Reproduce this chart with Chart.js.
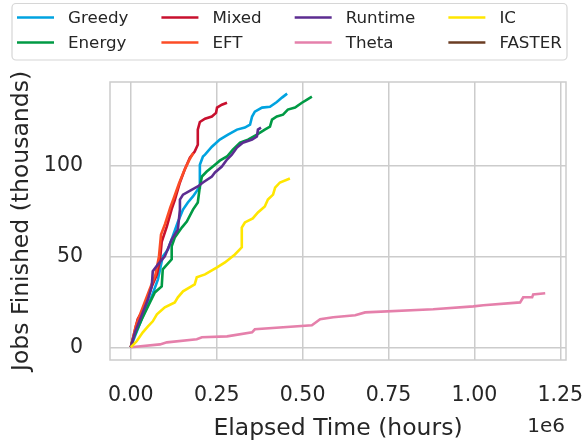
<!DOCTYPE html>
<html>
<head>
<meta charset="utf-8">
<script src="https://cdn.jsdelivr.net/npm/chart.js@4.4.0/dist/chart.umd.min.js"></script>
<style>
  html, body { margin: 0; padding: 0; background: #fff; }
</style>
</head>
<body>
<canvas id="jobsChart" width="584" height="444"></canvas>
<script>
// elapsed time in hours, jobs finished in thousands
const greedyX = [0, 12000, 35000, 61000, 79000, 93000, 108000, 122000, 137000, 152000, 166000, 181000, 195000, 200000, 201000, 210000, 216000, 236000, 259000, 283000, 309000, 332000, 347000, 353000, 361000, 382000, 405000, 425000, 440000, 455000];
const greedyY = [0, 6, 17, 28, 37.4, 50, 53.8, 61, 69, 75.8, 79.7, 83, 86.8, 88, 100.5, 105, 106, 110.4, 114.3, 117, 119.8, 120.9, 122.5, 127, 129.7, 131.9, 132.4, 135, 137.4, 139.6];

const energyX = [0, 6000, 32000, 50000, 70000, 90000, 93000, 119000, 119000, 128000, 149000, 163000, 181000, 195000, 201000, 207000, 221000, 245000, 259000, 280000, 297000, 318000, 341000, 367000, 390000, 405000, 411000, 425000, 443000, 457000, 478000, 498000, 513000, 527000];
const energyY = [0, 4.4, 15.4, 22.5, 30.2, 33.5, 42.9, 48.4, 55.5, 60.4, 66, 69.2, 75.8, 79.7, 88.5, 94, 96.7, 100.5, 102.7, 105, 108.8, 112.6, 114.3, 117, 119.8, 121.4, 125.3, 127, 128, 130.8, 131.9, 134.6, 136.3, 137.9];

const mixedX = [0, 20000, 41000, 61000, 76000, 85000, 90000, 105000, 119000, 128000, 143000, 157000, 172000, 186000, 195000, 195000, 201000, 216000, 236000, 248000, 251000, 265000, 280000];
const mixedY = [0, 15.4, 22.5, 33.5, 40, 48, 58, 66.5, 76, 81, 90.7, 97.8, 104.4, 107.7, 111.5, 119.8, 124, 125.8, 127, 129, 131.9, 133.5, 134.6];

const eftX = [0, 15000, 35000, 55000, 72000, 82000, 88000, 100000, 115000, 125000, 140000, 155000, 170000, 182000];
const eftY = [0, 12, 22, 32, 40, 50, 62, 68, 77, 82, 90, 97, 103, 107];

const runtimeX = [0, 12000, 35000, 50000, 61000, 64000, 79000, 99000, 119000, 137000, 143000, 143000, 152000, 178000, 195000, 210000, 236000, 245000, 265000, 280000, 294000, 309000, 326000, 353000, 367000, 370000, 379000];
const runtimeY = [0, 8.2, 19.2, 26.4, 33.5, 41.8, 45.6, 50, 59.3, 64.8, 75.8, 81.3, 84, 86.8, 88.5, 90.7, 94, 96.2, 99.5, 103.3, 106, 109.9, 112.6, 114.3, 116, 119.8, 120.9];

const thetaX = [0, 85000, 105000, 192000, 207000, 280000, 353000, 361000, 527000, 551000, 589000, 653000, 682000, 880000, 997000, 1026000, 1133000, 1142000, 1168000, 1171000, 1206000];
const thetaY = [0, 1.6, 2.7, 4.4, 5.5, 6, 8.2, 9.9, 12.1, 15.4, 16.5, 17.6, 19.2, 20.9, 22.5, 23.1, 24.7, 27.5, 27.5, 29.1, 29.7];

const icX = [0, 17000, 35000, 50000, 64000, 76000, 99000, 128000, 137000, 152000, 186000, 192000, 216000, 251000, 274000, 303000, 323000, 323000, 332000, 355000, 370000, 390000, 399000, 414000, 420000, 434000, 463000];
const icY = [0, 3.3, 8.2, 11.5, 14.3, 18.1, 22, 24.7, 27.5, 30.8, 34.6, 38.5, 40.1, 44, 46.7, 51.1, 55, 65.9, 68.7, 70.9, 74.2, 77.5, 81.3, 84, 87.9, 90.7, 92.9];

const fasterX = [];
const fasterY = [];

const xTicks = [0, 250000, 500000, 750000, 1000000, 1250000];
const yTicks = [0, 50, 100];

const series = [
  { label: 'Greedy',  xs: greedyX,  ys: greedyY,  color: '#00A3E0' },
  { label: 'Energy',  xs: energyX,  ys: energyY,  color: '#009A44' },
  { label: 'Mixed',   xs: mixedX,   ys: mixedY,   color: '#C8102E' },
  { label: 'EFT',     xs: eftX,     ys: eftY,     color: '#FC4C26' },
  { label: 'Runtime', xs: runtimeX, ys: runtimeY, color: '#5C2D91' },
  { label: 'Theta',   xs: thetaX,   ys: thetaY,   color: '#E580AB' },
  { label: 'IC',      xs: icX,      ys: icY,      color: '#FFE600' },
  { label: 'FASTER',  xs: fasterX,  ys: fasterY,  color: '#6B3D23' }
];

const FONT = "'DejaVu Sans', sans-serif";
const TEXT = '#262626';
const GRID = '#cccccc';

// axes frame on all four sides
const framePlugin = {
  id: 'frame',
  beforeDatasetsDraw(chart) {
    const { ctx, chartArea: a } = chart;
    ctx.save();
    ctx.strokeStyle = GRID;
    ctx.lineWidth = 1.5;
    ctx.strokeRect(a.left, a.top, a.right - a.left, a.bottom - a.top);
    ctx.restore();
  }
};

// 4-column legend box plus the 1e6 multiplier under the x axis
const legendPlugin = {
  id: 'gridLegend',
  afterDraw(chart) {
    const ctx = chart.ctx;
    const cols = 4;
    const rows = [17.5, 42.5];
    ctx.save();
    ctx.font = '16.7px ' + FONT;

    ctx.beginPath();
    ctx.roundRect(12, 3.5, 555, 56.5, 4);
    ctx.fillStyle = 'rgba(255,255,255,0.8)';
    ctx.fill();
    ctx.strokeStyle = '#d6d6d6';
    ctx.lineWidth = 1.2;
    ctx.stroke();

    let x = 17;
    for (let c = 0; c < cols; c++) {
      let widest = 0;
      for (let r = 0; r < rows.length; r++) {
        const s = series[c * rows.length + r];
        const y = rows[r];
        ctx.strokeStyle = s.color;
        ctx.lineWidth = 2.6;
        ctx.beginPath();
        ctx.moveTo(x, y);
        ctx.lineTo(x + 37, y);
        ctx.stroke();
        ctx.fillStyle = TEXT;
        ctx.textBaseline = 'middle';
        ctx.textAlign = 'left';
        ctx.fillText(s.label, x + 51, y + 1);
        widest = Math.max(widest, ctx.measureText(s.label).width);
      }
      x += 51 + widest + 33;
    }

    ctx.font = '20px ' + FONT;
    ctx.textAlign = 'right';
    ctx.textBaseline = 'middle';
    ctx.fillText('1e6', chart.chartArea.right - 1, 427);
    ctx.restore();
  }
};

new Chart(document.getElementById('jobsChart'), {
  type: 'line',
  data: {
    datasets: series.map((s, i) => ({
      label: s.label,
      data: s.xs.map((x, j) => ({ x: x, y: s.ys[j] })),
      borderColor: s.color,
      backgroundColor: s.color,
      borderWidth: 2.6,
      pointRadius: 0,
      tension: 0,
      fill: false,
      order: series.length - i
    }))
  },
  options: {
    responsive: false,
    animation: false,
    devicePixelRatio: 1,
    layout: { padding: { top: 82, right: 18, left: 0, bottom: 0 } },
    plugins: {
      legend: { display: false },
      tooltip: { enabled: false }
    },
    scales: {
      x: {
        type: 'linear',
        min: -60500,
        max: 1266500,
        afterBuildTicks: s => { s.ticks = xTicks.map(v => ({ value: v })); },
        afterFit: s => { s.height = 84; s.paddingLeft = 0; s.paddingRight = 0; },
        ticks: {
          callback: v => (v / 1e6).toFixed(2),
          font: { family: FONT, size: 20.5 },
          color: TEXT,
          padding: 23,
          maxRotation: 0,
          autoSkip: false
        },
        grid: { color: GRID, lineWidth: 1.5, drawTicks: false },
        border: { display: false },
        title: {
          display: true,
          text: 'Elapsed Time (hours)',
          font: { family: FONT, size: 23.5 },
          color: TEXT,
          padding: { top: 0, bottom: 1.5 }
        }
      },
      y: {
        type: 'linear',
        min: -7,
        max: 146,
        afterBuildTicks: s => { s.ticks = yTicks.map(v => ({ value: v })); },
        afterFit: s => { s.width = 110; s.paddingTop = 0; s.paddingBottom = 0; },
        ticks: {
          font: { family: FONT, size: 20.5 },
          color: TEXT,
          padding: 27
        },
        grid: { color: GRID, lineWidth: 1.5, drawTicks: false },
        border: { display: false },
        title: {
          display: true,
          text: 'Jobs Finished (thousands)',
          font: { family: FONT, size: 23.5 },
          color: TEXT,
          padding: { top: 8, bottom: 0 }
        }
      }
    }
  },
  plugins: [framePlugin, legendPlugin]
});
</script>
</body>
</html>
